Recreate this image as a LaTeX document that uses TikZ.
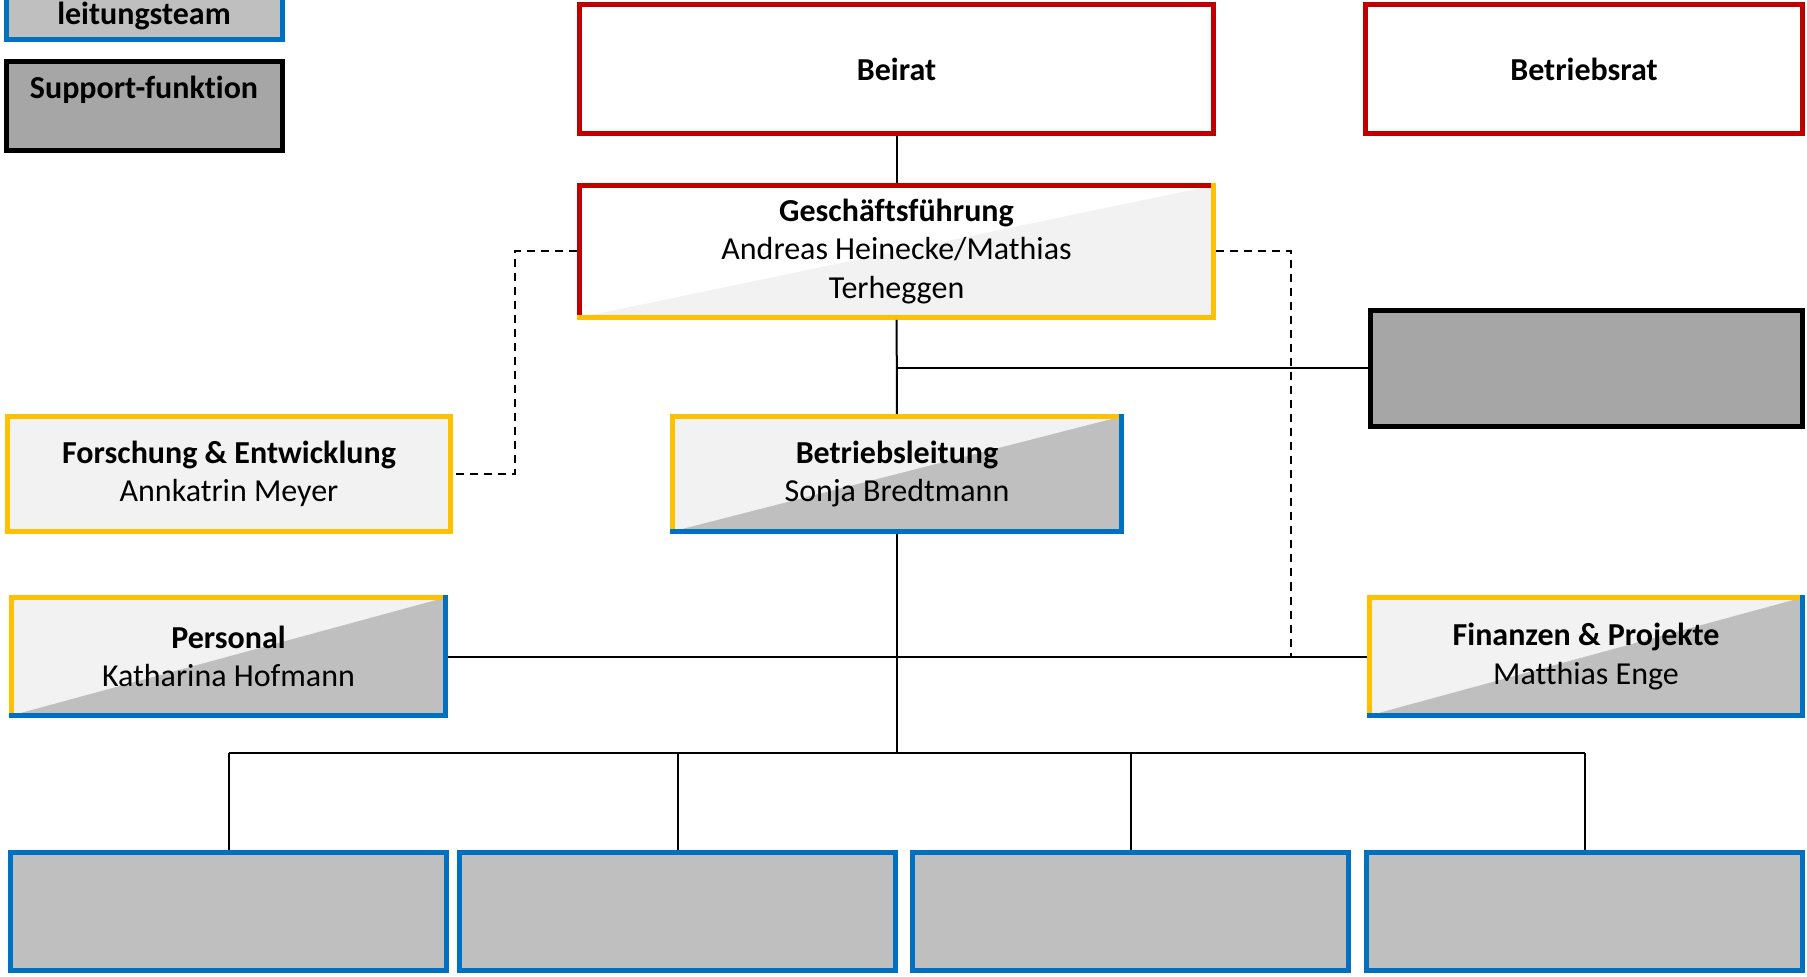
\documentclass[tikz,border=0pt]{standalone}
\usepackage{fontspec}
\setmainfont{Carlito}[Ligatures={NoCommon}]
\usetikzlibrary{calc}

\definecolor{rot}{HTML}{C00000}
\definecolor{gelb}{HTML}{FFC000}
\definecolor{blau}{HTML}{0070C0}
\definecolor{hellgrau}{HTML}{F2F2F2}
\definecolor{grau}{HTML}{BFBFBF}
\definecolor{dunkelgrau}{HTML}{A6A6A6}

\tikzset{
  box/.style={rectangle, inner sep=0pt, outer sep=1.25pt, line width=2.5pt,
    align=center, font=\fontsize{16}{19.3}\selectfont},
  gremium/.style={box, draw=rot, fill=white},
  twotone/.style 2 args={box, fill=#1,
    path picture={\fill[#2] (path picture bounding box.south west)
      -- (path picture bounding box.north east)
      -- (path picture bounding box.south east) -- cycle;}},
  bereich/.style={box, draw=blau, fill=grau},
  stab/.style={box, draw=black, fill=dunkelgrau},
  link/.style={line width=1pt},
  stablink/.style={line width=1pt, dash pattern=on 4pt off 3pt},
}

% frame in two colours: top/left and bottom/right
\newcommand\zweirahmen[3]{%
  \draw[line width=2.5pt, line cap=rect, #2]
    ([shift={(1.25pt,1.25pt)}]#1.south west) |- ([shift={(-1.25pt,-1.25pt)}]#1.north east);
  \draw[line width=2.5pt, line cap=rect, #3]
    ([shift={(-1.25pt,-1.25pt)}]#1.north east) |- ([shift={(1.25pt,1.25pt)}]#1.south west);}

\begin{document}
\begin{tikzpicture}[x=0.5pt, y=-0.5pt]
  \useasboundingbox (0,0) rectangle (1807,977);

  % legend
  \node[bereich, minimum width=138pt, text height=30pt, text depth=7.5pt, anchor=south]
    (legteam) at (144,42) {\textbf{leitungsteam}};
  \node[stab, minimum width=138pt, text height=18.5pt, text depth=26pt, anchor=north]
    (legstab) at (144,59) {\textbf{Support-funktion}};

  % boxes
  \node[gremium, minimum width=317pt, minimum height=64.5pt] (beirat) at (896.5,69) {\textbf{Beirat}};
  \node[gremium, minimum width=218.5pt, minimum height=64.5pt] (betriebsrat) at (1584,69) {\textbf{Betriebsrat}};
  \node[twotone={white}{hellgrau}, minimum width=317pt, minimum height=66pt] (gf) at (896.5,251.5)
    {\textbf{Geschäftsführung}\\Andreas Heinecke/Mathias\\Terheggen};
  \node[box, draw=gelb, fill=hellgrau, minimum width=221.5pt, minimum height=57.5pt] (fe) at (229,474)
    {\textbf{Forschung \& Entwicklung}\\Annkatrin Meyer};
  \node[twotone={hellgrau}{grau}, minimum width=224.5pt, minimum height=57.5pt] (bl) at (897,474)
    {\textbf{Betriebsleitung}\\Sonja Bredtmann};
  \node[stab, minimum width=216pt, minimum height=58pt] (support) at (1586,368.5) {};
  \node[twotone={hellgrau}{grau}, minimum width=217pt, minimum height=59pt] (personal) at (228.5,656.5)
    {\textbf{Personal}\\Katharina Hofmann};
  \node[twotone={hellgrau}{grau}, minimum width=216.5pt, minimum height=59pt] (finanzen) at (1586,656.5)
    {\textbf{Finanzen \& Projekte}\\Matthias Enge};
  \foreach \i/\x in {1/228.5, 2/677.5, 3/1130.5, 4/1584.5}
    \node[bereich, minimum width=218pt, minimum height=59pt] (abt\i) at (\x,911.5) {};

  \zweirahmen{gf}{rot}{gelb}
  \zweirahmen{bl}{gelb}{blau}
  \zweirahmen{personal}{gelb}{blau}
  \zweirahmen{finanzen}{gelb}{blau}

  % lines
  \coordinate (hub) at (897,753);
  \coordinate (dl) at (515,251.5);
  \coordinate (dr) at (1291,251.5);
  \draw[link] (beirat) -- (gf);
  \draw[link] (gf) -- (bl);
  \draw[link] (support.west -| gf.south) -- (support.west);
  \draw[link] (personal.east) -- (finanzen.west);
  \draw[link] (bl.south) -- (hub);
  \draw[link] (abt1.north |- hub) -- (abt4.north |- hub);
  \foreach \i in {1,...,4}
    \draw[link] (abt\i.north) -- (abt\i.north |- hub);
  \draw[stablink] (gf.west) -- (dl) |- (fe.east);
  \draw[stablink] (gf.east) -- (dr) |- (finanzen.west);
\end{tikzpicture}
\end{document}
